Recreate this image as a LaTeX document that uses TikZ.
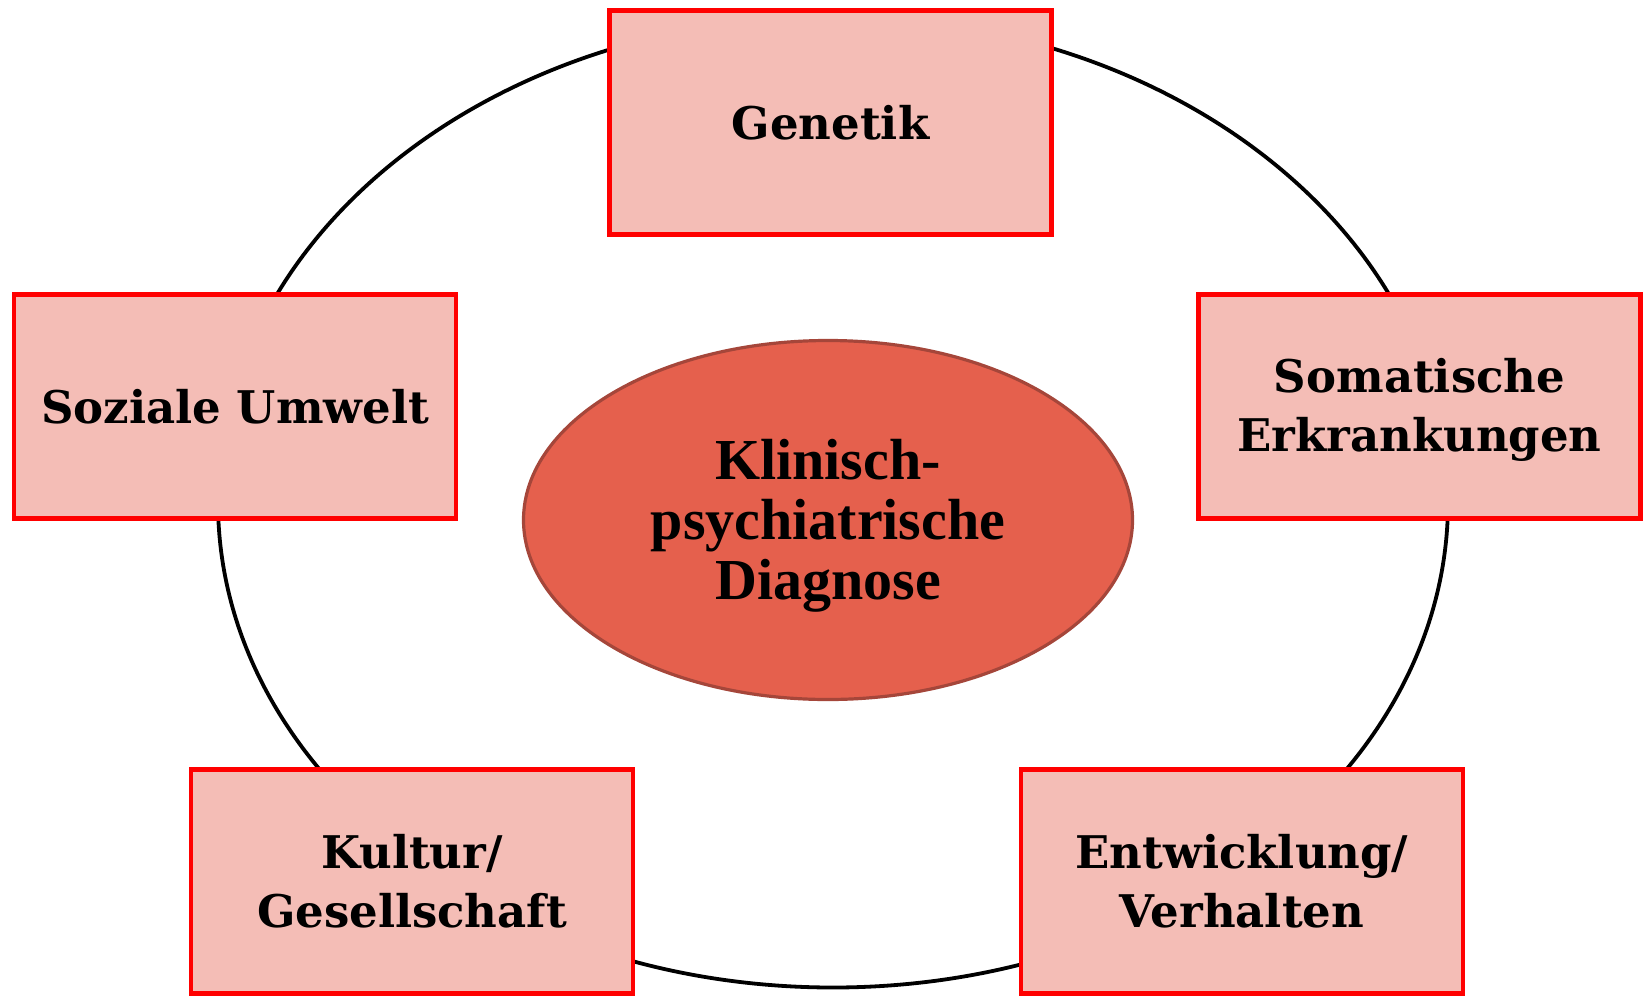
\documentclass[tikz,border=0pt]{standalone}
\usepackage{fontspec}
\setmainfont{DejaVu Serif}
\newfontfamily\timesfont{Liberation Serif}
\usetikzlibrary{shapes.geometric}
\definecolor{boxfill}{HTML}{F4BDB6}
\definecolor{corefill}{HTML}{E5604D}
\definecolor{coreborder}{HTML}{A5463A}
\tikzset{
  factor/.style={draw=red, fill=boxfill, line width=2.3pt, minimum width=221pt,
    minimum height=112pt, inner sep=0pt, align=center,
    font=\bfseries\fontsize{22.5}{29.5}\selectfont},
  core/.style={ellipse, draw=coreborder, fill=corefill, line width=1.6pt,
    minimum width=304.5pt, minimum height=179.5pt, inner sep=0pt},
  coretext/.style={font=\timesfont\bfseries\fontsize{29}{30}\selectfont,
    align=center, inner sep=0pt},
  ringstyle/.style={ellipse, draw=black, line width=1.9pt, minimum width=615pt,
    minimum height=485.5pt, inner sep=0pt}
}
\begin{document}
\begin{tikzpicture}[x=0.5pt,y=-0.5pt]
\useasboundingbox (0,0) rectangle (1644,996);
\node[ringstyle] (ring) at (833,502) {};
\node[core] (diag) at (828,520) {};
\node[coretext] (diagtext) at (diag.center) [yshift=-3pt] {Klinisch-\\psychiatrische\\Diagnose};
\node[factor] (gen) at (830.5,122.5) {Genetik};
\node[factor] (soz) at (235,406.5) {Soziale Umwelt};
\node[factor] (som) at (1419.5,406.5) {\strut Somatische\\Erkrankungen};
\node[factor] (kul) at (412,881.5) {Kultur/\\Gesellschaft};
\node[factor] (ent) at (1242,881.5) {Entwicklung/\\Verhalten};
\end{tikzpicture}
\end{document}
